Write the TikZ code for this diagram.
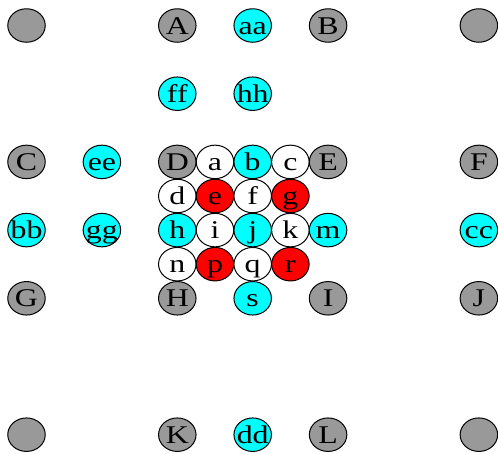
\documentclass[tikz,border=0pt]{standalone}
\usepackage{fontspec}
\usepackage{graphicx}
\setmainfont{Liberation Serif}
\usetikzlibrary{shapes.geometric}
\definecolor{cellgray}{RGB}{153,153,153}
\definecolor{cellcyan}{RGB}{0,255,255}
\definecolor{cellred}{RGB}{255,0,0}
% label text, widened and kept from resizing the ellipse
\newcommand\lbl[1]{\makebox[0pt]{\scalebox{1.25}[1]{#1}}}
\tikzset{
  cell/.style={ellipse, draw=black, line width=1pt, inner sep=0pt,
    minimum width=37.5pt, minimum height=33.5pt,
    text height=17pt, text depth=0pt,
    font=\fontsize{25.5}{25.5}\selectfont},
  gc/.style={cell, fill=cellgray},
  cc/.style={cell, fill=cellcyan},
  rc/.style={cell, fill=cellred},
  wc/.style={cell, fill=white},
}
\begin{document}
\begin{tikzpicture}[x=37.7pt, y=-34.1pt]
\useasboundingbox (-0.703,-0.748) rectangle (12.507,12.566);
% top row
\node[gc] (tl) at (0,0) {};
\node[gc] (A) at (4,0) {\lbl{A}};
\node[cc] (aa) at (6,0) {\lbl{aa}};
\node[gc] (B) at (8,0) {\lbl{B}};
\node[gc] (tr) at (12,0) {};
% second row
\node[cc] (ff) at (4,2) {\lbl{ff}};
\node[cc] (hh) at (6,2) {\lbl{hh}};
% row of D
\node[gc] (C) at (0,4) {\lbl{C}};
\node[cc] (ee) at (2,4) {\lbl{ee}};
\node[gc] (D) at (4,4) {\lbl{D}};
\node[wc] (a) at (5,4) {\lbl{a}};
\node[cc] (b) at (6,4) {\lbl{b}};
\node[wc] (c) at (7,4) {\lbl{c}};
\node[gc] (E) at (8,4) {\lbl{E}};
\node[gc] (F) at (12,4) {\lbl{F}};
% row of d
\node[wc] (d) at (4,5) {\lbl{d}};
\node[rc] (e) at (5,5) {\lbl{e}};
\node[wc] (f) at (6,5) {\lbl{f}};
\node[rc] (g) at (7,5) {\lbl{g}};
% row of h
\node[cc] (bb) at (0,6) {\lbl{bb}};
\node[cc] (gg) at (2,6) {\lbl{gg}};
\node[cc] (h) at (4,6) {\lbl{h}};
\node[wc] (i) at (5,6) {\lbl{i}};
\node[cc] (j) at (6,6) {\lbl{j}};
\node[wc] (k) at (7,6) {\lbl{k}};
\node[cc] (m) at (8,6) {\lbl{m}};
\node[cc] (cc) at (12,6) {\lbl{cc}};
% row of n
\node[wc] (n) at (4,7) {\lbl{n}};
\node[rc] (p) at (5,7) {\lbl{p}};
\node[wc] (q) at (6,7) {\lbl{q}};
\node[rc] (r) at (7,7) {\lbl{r}};
% row of H
\node[gc] (G) at (0,8) {\lbl{G}};
\node[gc] (H) at (4,8) {\lbl{H}};
\node[cc] (s) at (6,8) {\lbl{s}};
\node[gc] (I) at (8,8) {\lbl{I}};
\node[gc] (J) at (12,8) {\lbl{J}};
% bottom row
\node[gc] (bl) at (0,12) {};
\node[gc] (K) at (4,12) {\lbl{K}};
\node[cc] (dd) at (6,12) {\lbl{dd}};
\node[gc] (L) at (8,12) {\lbl{L}};
\node[gc] (br) at (12,12) {};
\end{tikzpicture}
\end{document}
